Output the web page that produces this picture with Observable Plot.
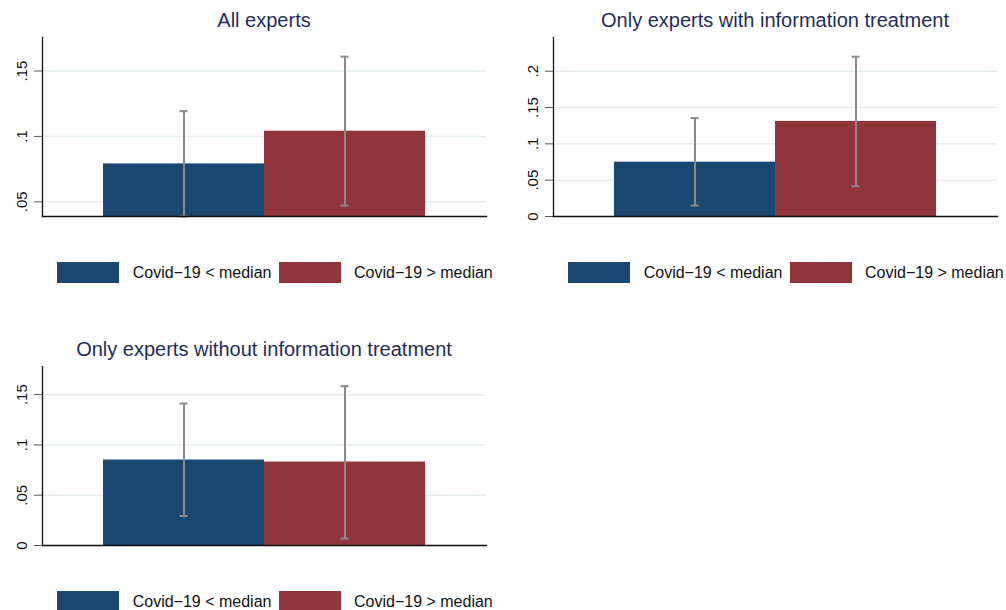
<!DOCTYPE html>
<html><head><meta charset="utf-8">
<script src="https://cdn.jsdelivr.net/npm/d3@7"></script>
<script src="https://cdn.jsdelivr.net/npm/@observablehq/plot@0.6"></script>
<style>
body{margin:0;background:#fff;font-family:"Liberation Sans",Arial,sans-serif;}
#root{position:relative;width:1006px;height:610px;overflow:hidden;background:#fff;}
.panel{position:absolute;width:500px;height:300px;}
.panel svg{position:absolute;left:0;top:0;}
.panel svg text{font-size:15px;}
.title{position:absolute;left:42px;width:444px;top:10.2px;text-align:center;font-size:20px;line-height:20px;color:#1f2d57;white-space:nowrap;}
.sw{position:absolute;top:262px;width:62px;height:21px;}
.lt{position:absolute;top:262.3px;height:21px;line-height:21px;font-size:16px;color:#111;white-space:nowrap;}
</style></head>
<body><div id="root"></div>
<script>
// ---- data ----
const groups = ["Covid−19 < median", "Covid−19 > median"];
const colors = ["#1a476f", "#90353b"];
const panelTitles = ["All experts", "Only experts with information treatment", "Only experts without information treatment"];
const meanAll = [0.079, 0.104];
const loAll = [0.0388, 0.0472];
const hiAll = [0.1193, 0.161];
const meanInfo = [0.0748, 0.1309];
const loInfo = [0.0151, 0.0417];
const hiInfo = [0.1354, 0.220];
const meanNoInfo = [0.085, 0.083];
const loNoInfo = [0.0293, 0.0069];
const hiNoInfo = [0.1412, 0.1584];
const yDomainAll = [0.0388, 0.1756];
const yDomainInfo = [0, 0.2464];
const yDomainNoInfo = [0, 0.178];
const yTicksAll = [0.05, 0.1, 0.15];
const yTicksInfo = [0, 0.05, 0.1, 0.15, 0.2];
const yTicksNoInfo = [0, 0.05, 0.1, 0.15];

const panels = [
  {title: panelTitles[0], mean: meanAll, lo: loAll, hi: hiAll, domain: yDomainAll, ticks: yTicksAll, left: 0, top: 0},
  {title: panelTitles[1], mean: meanInfo, lo: loInfo, hi: hiInfo, domain: yDomainInfo, ticks: yTicksInfo, left: 511, top: 0},
  {title: panelTitles[2], mean: meanNoInfo, lo: loNoInfo, hi: hiNoInfo, domain: yDomainNoInfo, ticks: yTicksNoInfo, left: 0, top: 329}
];

const fmt = d => d === 0 ? "0" : String(d).replace(/^0/, "");
const root = document.getElementById("root");

for (const p of panels) {
  const data = groups.map((g, j) => ({g, mean: p.mean[j], lo: p.lo[j], hi: p.hi[j]}));
  const div = document.createElement("div");
  div.className = "panel";
  div.style.left = p.left + "px";
  div.style.top = p.top + "px";
  const chart = Plot.plot({
    width: 500, height: 240,
    marginLeft: 42, marginRight: 14, marginTop: 37, marginBottom: 24,
    style: {background: "transparent", fontFamily: "'Liberation Sans', Arial, sans-serif", fontSize: "15px", color: "#111"},
    x: {domain: groups, paddingInner: 0, paddingOuter: 0.372, axis: null},
    y: {domain: p.domain, axis: null},
    color: {domain: groups, range: colors},
    marks: [
      Plot.gridY(p.ticks, {stroke: "#e3ecef", strokeOpacity: 1, strokeWidth: 1.5}),
      Plot.barY(data, {x: "g", y: "mean", fill: "g", clip: true}),
      Plot.ruleX(data, {x: "g", y1: "lo", y2: "hi", stroke: "#8a8a8a", strokeWidth: 2}),
      Plot.tickY(data, {x: "g", y: "lo", stroke: "#8a8a8a", strokeWidth: 2, insetLeft: 76.5, insetRight: 76.5}),
      Plot.tickY(data, {x: "g", y: "hi", stroke: "#8a8a8a", strokeWidth: 2, insetLeft: 76.5, insetRight: 76.5}),
      Plot.axisY(p.ticks, {tickRotate: -90, tickSize: 8, tickPadding: 7.7, tickFormat: fmt, stroke: "#555", fill: "#111", fontSize: 15}),
      Plot.frame({anchor: "left", stroke: "#111", strokeWidth: 1.3}),
      Plot.frame({anchor: "bottom", stroke: "#111", strokeWidth: 1.3})
    ]
  });
  div.appendChild(chart);
  const t = document.createElement("div");
  t.className = "title";
  t.textContent = p.title;
  div.appendChild(t);
  const swX = [57, 279], txX = [132.7, 354];
  groups.forEach((g, j) => {
    const s = document.createElement("div");
    s.className = "sw"; s.style.left = swX[j] + "px"; s.style.background = colors[j];
    div.appendChild(s);
    const l = document.createElement("div");
    l.className = "lt"; l.style.left = txX[j] + "px"; l.textContent = g;
    div.appendChild(l);
  });
  root.appendChild(div);
}
</script>
</body></html>
